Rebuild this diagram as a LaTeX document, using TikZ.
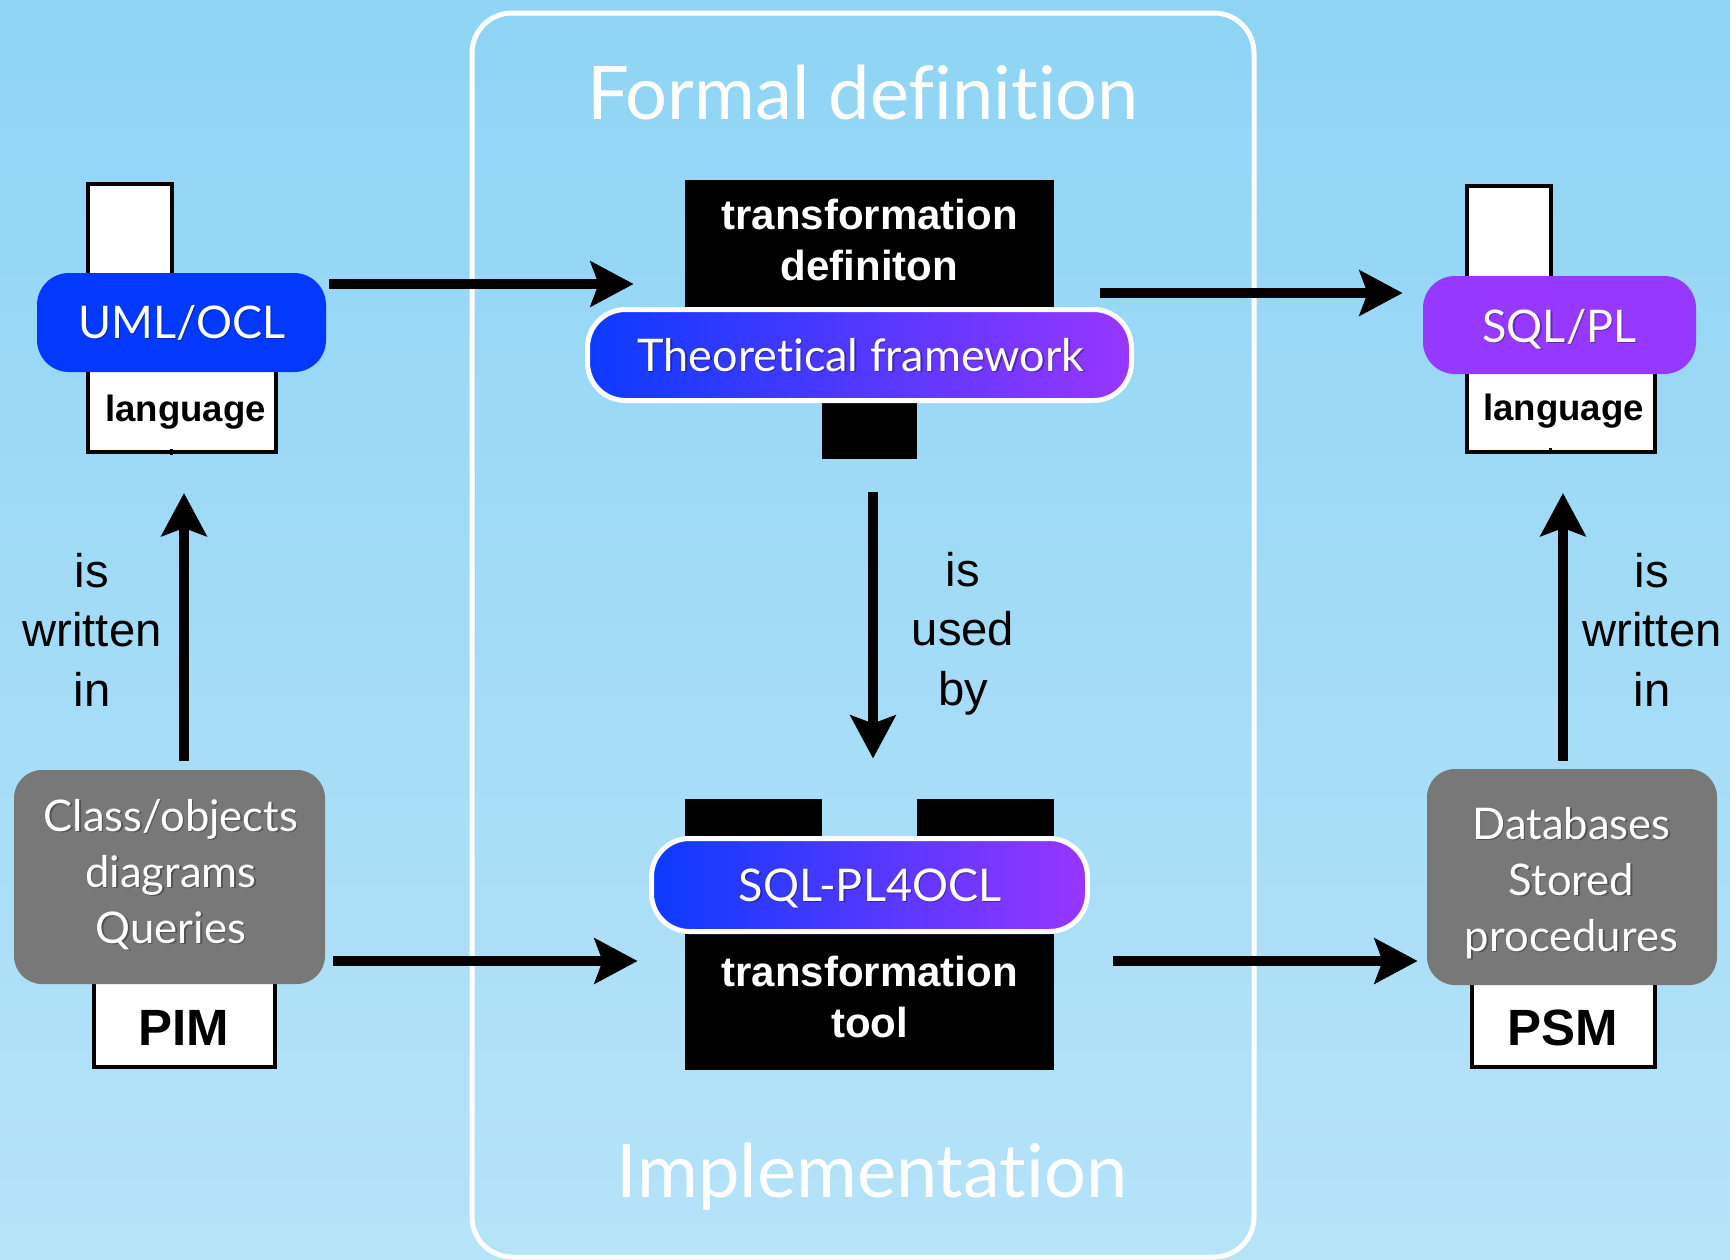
\documentclass[tikz,border=0pt]{standalone}
\usepackage{fontspec}
\usetikzlibrary{arrows.meta,calc}
\newfontfamily\gillfont{Lato}[Ligatures=NoCommon]
\newfontfamily\helvfont{Liberation Sans}
\definecolor{bgtop}{RGB}{143,212,245}
\definecolor{bgbot}{RGB}{182,227,248}
\definecolor{umlblue}{RGB}{2,56,255}
\definecolor{sqlpurple}{RGB}{150,56,255}
\definecolor{gradleft}{RGB}{12,58,255}
\definecolor{gradright}{RGB}{152,54,255}
\definecolor{boxgray}{RGB}{120,120,120}

% white text with a faint drop shadow: name, position, style, text
\newcommand\shadowedtext[4]{%
  \node[#3, text=black, text opacity=0.3, xshift=0.7pt, yshift=-0.9pt] (#1-shadow) at #2 {#4};
  \node[#3] (#1) at #2 {#4};}

\tikzset{
  langbox/.style={draw=black, line width=2pt, fill=white, inner sep=0pt},
  blackbox/.style={fill=black, inner sep=0pt},
  solidpill/.style={rounded corners=16pt, inner sep=0pt},
  gradpill/.style={draw=white, line width=2.5pt, rounded corners=19pt,
    left color=gradleft, right color=gradright, inner sep=0pt},
  graybox/.style={fill=boxgray, rounded corners=14pt, inner sep=0pt},
  arr/.style={line width=5pt, -{Stealth[length=21.5pt,width=22.5pt,inset=4pt]}},
  title/.style={font=\gillfont\fontsize{37}{44}\selectfont, text=white, anchor=base, inner sep=0pt},
  pilltext/.style={font=\gillfont\fontsize{22.5}{26}\selectfont, text=white, anchor=base, inner sep=0pt},
  % multi-line nodes below are placed at the baseline of their last line
  graytext/.style={font=\gillfont\fontsize{21.8}{28}\selectfont, text=white, align=center, anchor=base, inner sep=0pt},
  boldtext/.style={font=\helvfont\bfseries\fontsize{21}{25.5}\selectfont, text=white, align=center, anchor=base, inner sep=0pt},
  langtext/.style={font=\helvfont\bfseries\fontsize{18.3}{22}\selectfont, anchor=base, inner sep=0pt},
  modeltext/.style={font=\helvfont\bfseries\fontsize{25.5}{30}\selectfont, anchor=base, inner sep=0pt},
  relation/.style={font=\helvfont\fontsize{23.6}{29.7}\selectfont, align=center, anchor=base, inner sep=0pt},
}

\begin{document}
\begin{tikzpicture}[x=0.5pt, y=-0.5pt]
  % background
  \useasboundingbox (0,0) rectangle (1730,1259);
  \shade[top color=bgtop, bottom color=bgbot] (0,0) rectangle (1730,1259);

  % central frame
  \draw[white, line width=2.5pt, rounded corners=20pt] (472,13) rectangle (1254,1257);
  \node[title] (formal) at (863,119) {Formal definition};
  \node[title] (impl) at (872,1197) {Implementation};

  % ---- left column: PIM ----
  \node[langbox, minimum width=42pt, minimum height=68.5pt] (lstem) at (130,252) {};
  \node[langbox, minimum width=94pt, minimum height=61pt] (llang) at (182,391) {};
  \fill (169.5,449) rectangle (172.5,455);
  \node[solidpill, fill=umlblue, minimum width=144.5pt, minimum height=49.5pt] (umlpill) at (181.5,322.5) {};
  \shadowedtext{umltext}{(182,338)}{pilltext}{UML/OCL}
  \node[langtext] (llangtext) at (185.5,421) {language};

  \node[langbox, minimum width=90.5pt, minimum height=53.5pt] (pim) at (184.5,1013.5) {};
  \node[graybox, minimum width=155.5pt, minimum height=107pt] (pimgray) at (169.5,877) {};
  \shadowedtext{pimtext}{(171,943)}{graytext}{Class/objects\\diagrams\\Queries}
  \node[modeltext] (pimlabel) at (184,1045) {PIM};

  \node[relation] (lwritten) at (92,706) {is\\written\\in};

  % ---- right column: PSM ----
  \node[langbox, minimum width=42pt, minimum height=67.5pt] (rstem) at (1509,253) {};
  \node[langbox, minimum width=94pt, minimum height=61pt] (rlang) at (1561,391) {};
  \fill (1548.5,448) rectangle (1551.5,454);
  \node[solidpill, fill=sqlpurple, minimum width=136.5pt, minimum height=49pt] (sqlpill) at (1559.5,325) {};
  \shadowedtext{sqltext}{(1559.5,342)}{pilltext}{SQL/PL}
  \node[langtext] (rlangtext) at (1563.5,420) {language};

  \node[langbox, minimum width=91.5pt, minimum height=53.5pt] (psm) at (1563.5,1013.5) {};
  \node[graybox, minimum width=145pt, minimum height=108pt] (psmgray) at (1572,877) {};
  \shadowedtext{psmtext}{(1571.5,951)}{graytext}{Databases\\Stored\\procedures}
  \node[modeltext] (psmlabel) at (1562.5,1045) {PSM};

  \node[relation] (rwritten) at (1652,706) {is\\written\\in};

  % ---- centre: formal definition ----
  \node[blackbox, minimum width=184.5pt, minimum height=65pt] (tdef) at (869.5,245) {};
  \node[blackbox, minimum width=47.5pt, minimum height=30.5pt] (tdefstem) at (869.5,428.5) {};
  \node[gradpill, minimum width=272pt, minimum height=45.5pt] (theory) at (859.5,355) {};
  \node[boldtext] (tdeftext) at (869.5,280) {transformation\\definiton};
  \shadowedtext{theorytext}{(861,371)}{pilltext}{Theoretical framework}

  \node[relation] (usedby) at (963,705) {is\\used\\by};

  % ---- centre: implementation ----
  \node[blackbox, minimum width=68.5pt, minimum height=23pt] (tooltl) at (753.5,822) {};
  \node[blackbox, minimum width=68.5pt, minimum height=23pt] (tooltr) at (985.5,822) {};
  \node[blackbox, minimum width=184.5pt, minimum height=72.5pt] (tool) at (869.5,997.5) {};
  \node[gradpill, minimum width=218pt, minimum height=46.5pt] (plpill) at (869.5,885) {};
  \shadowedtext{pltext}{(870,901)}{pilltext}{SQL-PL4OCL}
  \node[boldtext] (tooltext) at (869.5,1037) {transformation\\tool};

  % ---- connectors ----
  \draw[arr] ($(umlpill.east)+(3,-38.5)$) -- ($(tdef.west)+(-51,39)$);
  \draw[arr] ($(tdef.east)+(46,48)$) -- ($(sqlpill.west)+(-20,-32)$);
  \draw[arr] ($(pimgray.east)+(8,84)$) -- ($(tool.west)+(-47,-36.5)$);
  \draw[arr] ($(tool.east)+(59,-36.5)$) -- ($(psmgray.west)+(-9,84)$);
  \draw[arr] ($(tdefstem.south)+(3.5,33)$) -- ($(plpill.north)+(3.5,-77.5)$);
  \draw[arr] ($(pimgray.north)+(14.5,-9)$) -- ($(llang.south)+(2,39)$);
  \draw[arr] ($(psmgray.north)+(-9,-8)$) -- ($(rlang.south)+(2,39)$);
\end{tikzpicture}
\end{document}
